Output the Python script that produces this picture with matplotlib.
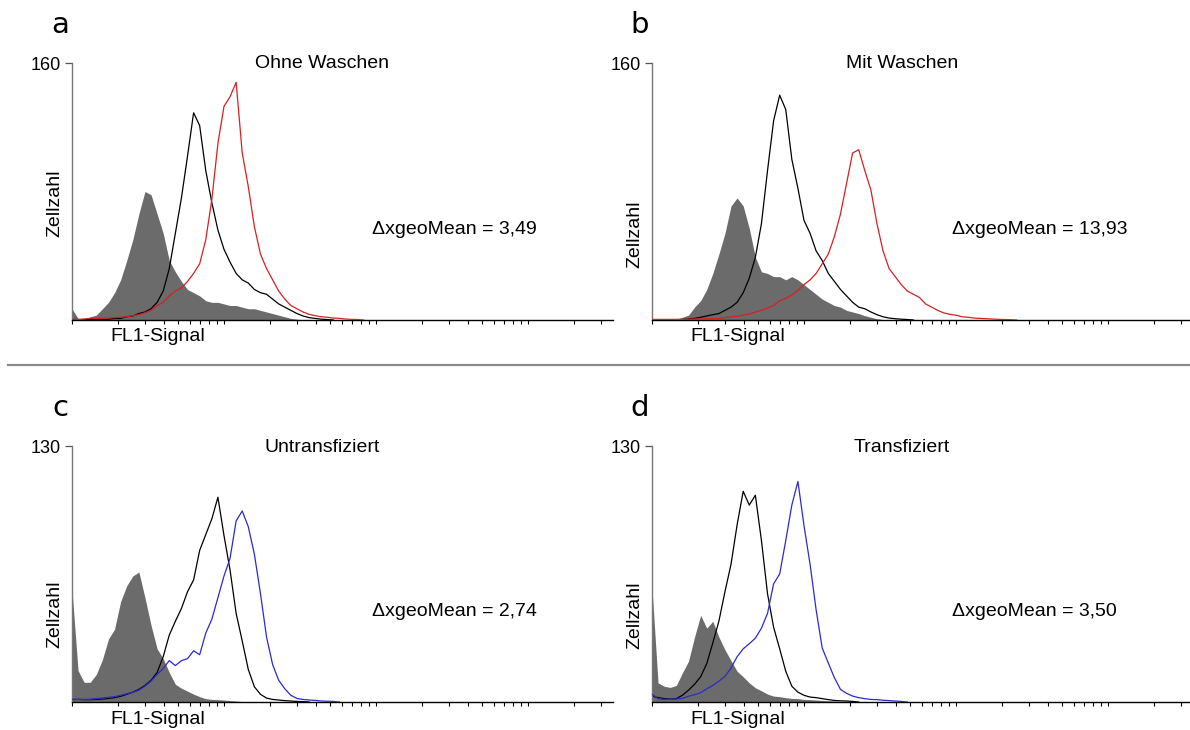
import matplotlib.pyplot as plt
from matplotlib import ticker

plt.rcParams['font.family'] = ['Liberation Sans', 'DejaVu Sans']

# FL1 channel of each histogram bin (log spaced)
fl1 = [1.000, 1.096, 1.202, 1.318, 1.445, 1.585, 1.738, 1.905, 2.089, 2.291,
       2.512, 2.754, 3.020, 3.311, 3.631, 3.981, 4.365, 4.786, 5.248, 5.754,
       6.310, 6.918, 7.586, 8.318, 9.120, 10.00, 10.96, 12.02, 13.18, 14.45,
       15.85, 17.38, 19.05, 20.89, 22.91, 25.12, 27.54, 30.20, 33.11, 36.31,
       39.81, 43.65, 47.86, 52.48, 57.54, 63.10, 69.18, 75.86, 83.18, 91.20,
       100.0, 109.6, 120.2, 131.8, 144.5, 158.5, 173.8, 190.5, 208.9, 229.1,
       251.2]

# a - Ohne Waschen
a_ctrl = [7, 1, 0.5, 2, 3, 7, 11, 17, 25, 37, 50, 66, 80, 78, 66, 54, 37, 30, 24, 19,
          17, 15, 12, 11, 11, 10, 9, 9, 8, 7, 7, 6, 5, 4, 3, 2, 1, 0.5, 0]
a_neg = [0.3, 0.3, 0.3, 0.3, 0.3, 0.3, 0.5, 1, 1, 2, 2.5, 4, 5, 7, 11, 18, 32, 54, 76, 102,
         129, 121, 93, 73, 56, 44, 36, 29, 25, 23, 19, 17, 16, 13, 10, 8, 6, 4, 2.5, 1.5,
         1, 0.5, 0.3, 0]
a_pos = [0, 0.3, 0.6, 1, 1, 1, 1.2, 1.5, 1.7, 2, 2.7, 3.3, 4.5, 6, 9, 11, 15, 18, 20, 24,
         29, 35, 50, 75, 110, 133, 139, 148, 104, 83, 58, 41, 32, 25, 18, 13, 9, 7, 5, 3.5,
         2.7, 2, 1.7, 1.2, 1, 0.6, 0.4, 0.3, 0]

# b - Mit Waschen
b_ctrl = [0.3, 0.3, 0.3, 0.3, 0.4, 1.7, 3, 8, 12, 19, 29, 41, 54, 71, 76, 71, 57, 39, 30, 29,
          27, 27, 25, 27, 25, 22, 19, 16, 13, 11, 9, 8, 6, 5, 4, 2.7, 1.7, 0.8, 0.3, 0]
b_neg = [0.3, 0.3, 0.3, 0.3, 0.3, 0.3, 0.6, 1, 1.7, 2.5, 3.3, 4, 6, 8, 11, 17, 26, 39, 60, 93,
         124, 140, 131, 100, 82, 62, 54, 43, 37, 29, 24, 19, 15, 11, 8, 7, 5, 3.3, 2, 1.2,
         0.8, 0.5, 0.3, 0]
b_pos = [0.3, 0.3, 0.3, 0.3, 0.3, 0.4, 0.5, 0.6, 0.7, 0.8, 0.9, 1, 1.5, 2, 2.3, 3, 3.7, 5, 6, 7.5,
         9, 12, 13.5, 15.5, 18.5, 22, 25, 29, 35, 41, 52, 66, 85, 104, 106, 93, 81, 60, 43, 32,
         27, 22, 18, 16, 14, 10, 8, 6, 4.4, 3.5, 3, 2, 1.7, 1.2, 1, 0.8, 0.6, 0.4, 0.3, 0.2, 0]

# c - Untransfiziert
c_ctrl = [57, 16, 10, 10, 14, 21.5, 32, 37, 51, 59, 64, 66, 53, 39, 27, 22, 15, 9, 7, 5.5,
          4, 2.7, 1.7, 1.3, 1.2, 1, 0.7, 0.5, 0.2, 0]
c_neg = [1.3, 1.3, 1.2, 1.2, 1.3, 1.5, 1.8, 2.2, 2.9, 3.9, 5, 6.4, 8.4, 11, 15, 23, 34, 41, 47.5, 56,
         62, 77, 85, 93, 104, 84.5, 67, 45, 31, 16.5, 7.7, 3.9, 2, 1.3, 1, 0.7, 0.5, 0.3, 0.2, 0]
c_pos = [1.3, 1.3, 1.3, 1.4, 1.7, 2, 2.4, 2.7, 3.4, 4.2, 4.9, 6, 8, 10.6, 14, 17, 21, 18.5, 21, 22,
         26, 24, 35, 42, 53, 64, 73, 92, 97, 89, 75, 55, 33, 19, 11, 6.7, 3.4, 1.8, 1.3, 1,
         0.8, 0.5, 0.4, 0.3, 0]

# d - Transfiziert
d_ctrl = [58, 9.7, 8, 7.4, 8.4, 14.8, 20.7, 33, 44, 37.5, 41, 33, 26.5, 21, 15.6, 12.8, 9.7, 7.2, 5.7, 4,
          3, 2.7, 2.2, 1.8, 1.7, 1.3, 1.2, 1, 0.8, 0.6, 0.5, 0.3, 0]
d_neg = [3, 2.2, 1.7, 1.5, 1.7, 3.4, 6, 9, 12.8, 19.5, 30, 41, 56, 70, 90, 107, 100, 105, 82, 55,
         38, 27, 15.6, 8, 5, 3.4, 2.5, 2.2, 1.7, 1.2, 0.8, 0.6, 0.5, 0.3, 0]
d_pos = [4, 1.7, 1.3, 1.5, 1.5, 1.8, 2.9, 3.7, 4.7, 6.7, 8.4, 10.6, 13, 17.3, 23, 27, 29.6, 32.4, 37.5, 45,
         60, 65, 82, 100, 112, 89.6, 70, 46.7, 27.4, 19.8, 12.3, 6.4, 4.4, 3, 2.2, 1.7, 1.3, 1.2, 0.9, 0.7,
         0.5, 0.3, 0]

letters = ['a', 'b', 'c', 'd']
titles = ['Ohne Waschen', 'Mit Waschen', 'Untransfiziert', 'Transfiziert']
delta_labels = ['\u0394xgeoMean = 3,49', '\u0394xgeoMean = 13,93',
                '\u0394xgeoMean = 2,74', '\u0394xgeoMean = 3,50']
ymax = [160, 160, 130, 130]
series = [(a_ctrl, a_neg, a_pos), (b_ctrl, b_neg, b_pos),
          (c_ctrl, c_neg, c_pos), (d_ctrl, d_neg, d_pos)]
pos_colors = ['#d82020', '#d82020', '#2a2ad0', '#2a2ad0']

W, H = 1190, 730
fig = plt.figure(figsize=(W / 100, H / 100), dpi=100)

# pixel boxes (left, top, right, bottom) of each plot area
boxes = [(72, 63, 613, 320), (652, 63, 1190, 320),
         (72, 446, 613, 702), (652, 446, 1190, 702)]
ylab_frac = [0.455, 0.335, 0.344, 0.34]

for k in range(4):
    l, t, r, b = boxes[k]
    ax = fig.add_axes([l / W, 1 - b / H, (r - l) / W, (b - t) / H])
    ctrl, neg, pos = series[k]
    ax.fill_between(fl1[:len(ctrl)], ctrl, color='#6b6b6b', lw=0, zorder=1)
    ax.plot(fl1[:len(neg)], neg, color='black', lw=0.9, zorder=2)
    ax.plot(fl1[:len(pos)], pos, color=pos_colors[k], lw=0.9, zorder=3)

    ax.set_xscale('log')
    ax.set_xlim(1, 10 ** ((r - l) / 152))
    ax.set_ylim(0, ymax[k])
    ax.xaxis.set_major_locator(ticker.LogLocator(base=10, numticks=10))
    ax.xaxis.set_minor_locator(ticker.LogLocator(base=10, subs=(2, 3, 4, 5, 6, 7, 8, 9), numticks=50))
    ax.xaxis.set_major_formatter(ticker.NullFormatter())
    ax.xaxis.set_minor_formatter(ticker.NullFormatter())
    ax.tick_params(axis='x', which='both', direction='out', length=3, width=0.8, color='black')
    ax.set_yticks([ymax[k]])
    ax.set_yticklabels([str(ymax[k])], fontsize=13)
    ax.tick_params(axis='y', direction='out', length=5, width=0.9, color='#555555', pad=3)

    for s in ['top', 'right']:
        ax.spines[s].set_visible(False)
    ax.spines['left'].set_color('#777777')
    ax.spines['left'].set_linewidth(1.0)
    ax.spines['bottom'].set_color('black')
    ax.spines['bottom'].set_linewidth(1.0)
    ax.patch.set_alpha(0)

    ax.text(-0.031, ylab_frac[k], 'Zellzahl', rotation=90, transform=ax.transAxes,
            ha='center', va='center', fontsize=14)
    ax.text((l + 86) / W, 1 - (b + 17) / H, 'FL1-Signal', transform=fig.transFigure,
            ha='center', va='center', fontsize=14)
    ax.text((l + 250) / W, 1 - (t + 1) / H, titles[k], transform=fig.transFigure,
            ha='center', va='center', fontsize=14)
    ax.text((l + 300) / W, 1 - (t + 166) / H, delta_labels[k], transform=fig.transFigure,
            ha='left', va='center', fontsize=14)
    fig.text((l - 12) / W, 1 - (t - 30) / H, letters[k], ha='center', va='baseline',
             fontsize=21, family='DejaVu Sans')

# separator between the two rows
fig.add_artist(plt.Line2D([8 / W, 1.0], [1 - 365 / H, 1 - 365 / H], color='#8a8a8a', lw=1.6))

fig.savefig('out.png', dpi=100)
